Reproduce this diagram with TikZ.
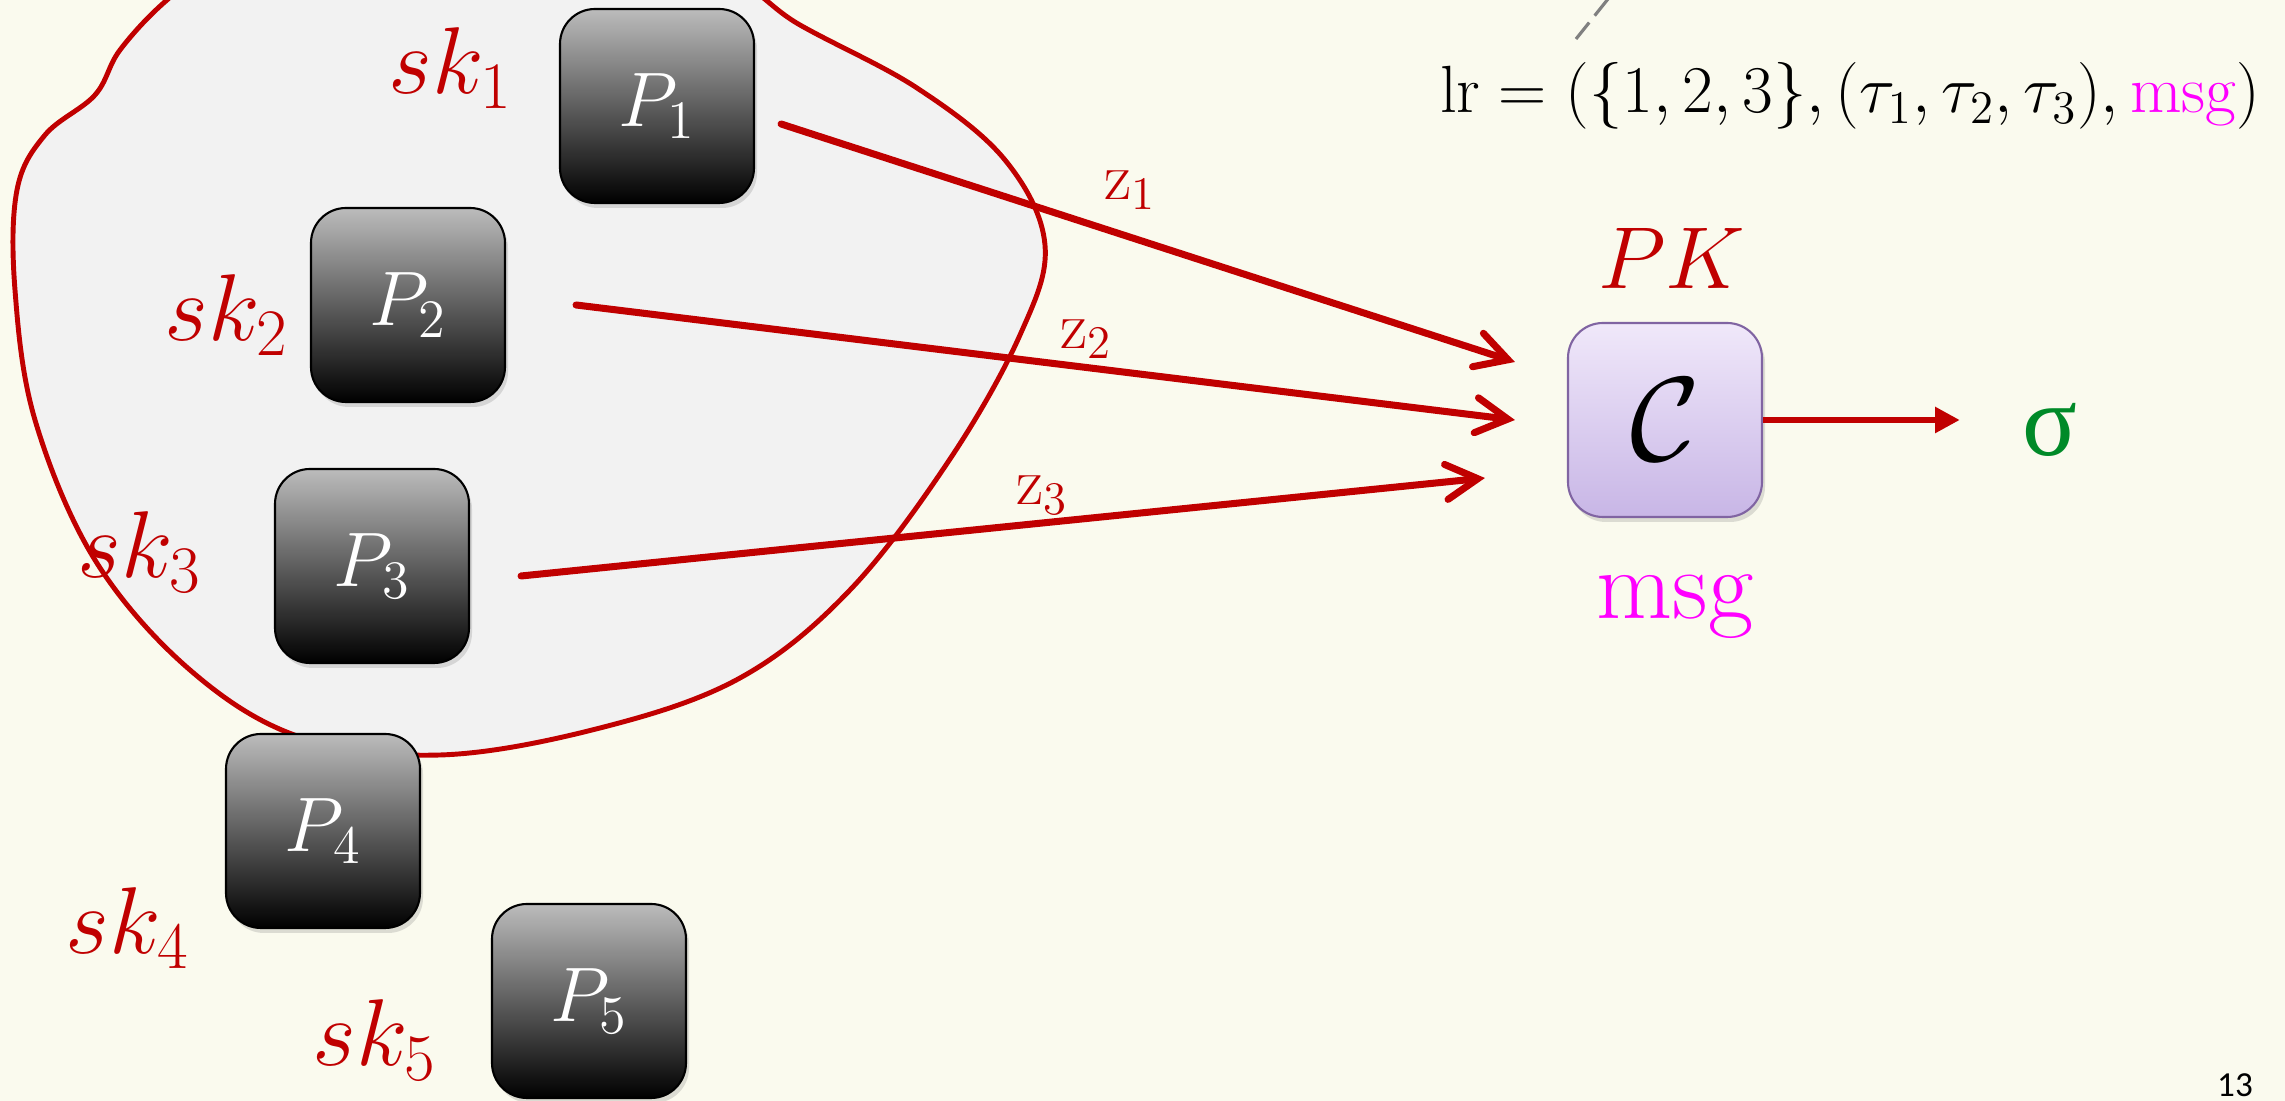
\RequirePackage{fix-cm}
\documentclass[tikz,border=0pt]{standalone}
\usepackage{fontspec}
\usepackage{amsmath, amssymb}
\newfontfamily\greekfont{Liberation Serif}
\newfontfamily\pagefont{Carlito}
\usetikzlibrary{arrows.meta, positioning, calc, shadows}

\definecolor{bgcream}{RGB}{250,250,238}
\definecolor{darkred}{RGB}{192,0,0}
\definecolor{blobgray}{RGB}{242,242,242}
\definecolor{boxtop}{RGB}{188,188,188}
\definecolor{lavtop}{RGB}{240,232,250}
\definecolor{lavbot}{RGB}{200,182,230}
\definecolor{lavline}{RGB}{128,100,162}
\definecolor{siggreen}{RGB}{0,138,40}
\definecolor{msgpink}{RGB}{255,0,255}

\begin{document}
\begin{tikzpicture}[
    party/.style={draw=black, line width=0.6pt, rounded corners=0.35cm,
      top color=boxtop, bottom color=black, minimum width=1.94cm,
      minimum height=1.94cm, inner sep=0pt, text=white,
      font=\fontsize{22}{26}\selectfont,
      drop shadow={shadow xshift=0.03cm, shadow yshift=-0.05cm, opacity=0.25}},
    combiner/.style={draw=lavline, line width=0.6pt, rounded corners=0.35cm,
      top color=lavtop, bottom color=lavbot, minimum width=1.94cm,
      minimum height=1.94cm, inner sep=0pt,
      font=\fontsize{34}{40}\selectfont,
      drop shadow={shadow xshift=0.03cm, shadow yshift=-0.05cm, opacity=0.25}},
    keylab/.style={text=darkred, inner sep=0pt, font=\fontsize{27}{32}\selectfont},
    zlab/.style={text=darkred, inner sep=0pt, font=\fontsize{19}{23}\selectfont},
    zarrow/.style={draw=darkred, line width=2pt, line cap=round,
      -{Straight Barb[length=9pt, width=10pt, line cap=round]}},
  ]
    % Background
    \useasboundingbox[fill=bgcream] (0,0) rectangle (22.85,-11.01);

    % Blob
    \draw[darkred, line width=1.4pt, fill=blobgray] plot[smooth cycle, tension=0.6] coordinates {
      (1.67,0) (1.20,-0.50) (0.95,-0.95) (0.45,-1.35) (0.17,-1.90) (0.15,-2.90)
      (0.35,-4.20) (0.95,-5.60) (1.90,-6.70) (3.00,-7.37) (4.40,-7.55) (6.00,-7.28)
      (7.40,-6.78) (8.50,-5.90) (9.50,-4.59) (10.20,-3.35) (10.45,-2.45) (10.05,-1.60)
      (9.17,-0.88) (8.00,-0.25) (7.00,0.35) (4.50,0.80) (2.30,0.45)};

    % Parties
    \node[party] (P1) at (6.57,-1.06) {$P_1$};
    \node[party] (P2) at (4.08,-3.05) {$P_2$};
    \node[party] (P3) at (3.72,-5.66) {$P_3$};
    \node[party] (P4) at (3.23,-8.31) {$P_4$};
    \node[party] (P5) at (5.89,-10.01) {$P_5$};

    % Secret keys
    \node[keylab] (sk1) at (4.51,-0.68) {$sk_1$};
    \node[keylab] (sk2) at (2.27,-3.15) {$sk_2$};
    \node[keylab] (sk3) at (1.40,-5.52) {$sk_3$};
    \node[keylab] (sk4) at (1.28,-9.28) {$sk_4$};
    \node[keylab] (sk5) at (3.75,-10.40) {$sk_5$};

    % Combiner
    \node[combiner] (C) at (16.65,-4.20) {$\mathcal{C}$};
    \node[text=darkred, inner sep=0pt, font=\fontsize{25}{30}\selectfont] (PK) at (16.72,-2.58) {$PK$};
    \node[text=msgpink, inner sep=0pt, font=\fontsize{28}{34}\selectfont] (msg) at (16.75,-6.07) {msg};
    \node[text=siggreen, inner sep=0pt, font=\fontsize{29}{34}\greekfont] (sig) at (20.50,-4.30) {σ};

    % Shares
    \draw[zarrow] ($(P1.east)+(0.26,-0.18)$) -- ($(C.west)+(-0.52,0.58)$);
    \draw[zarrow] ($(P2.east)+(0.70,0)$) -- ($(C.west)+(-0.52,0)$);
    \draw[zarrow] ($(P3.east)+(0.51,-0.10)$) -- ($(C.west)+(-0.82,-0.58)$);
    \node[zlab] (z1) at (11.30,-1.90) {$\mathrm{z}_1$};
    \node[zlab] (z2) at (10.86,-3.39) {$\mathrm{z}_2$};
    \node[zlab] (z3) at (10.42,-4.95) {$\mathrm{z}_3$};

    % Output
    \draw[darkred, line width=1.8pt, -{Triangle[length=7pt, width=7pt]}, shorten >=0.62cm]
      (C.east) -- (C.east -| sig.west);

    % Record
    \coordinate (dashlo) at (15.76,-0.39);
    \coordinate (dashhi) at (16.12,0.06);
    \draw[gray, line width=0.9pt, dash pattern=on 6pt off 2.5pt] (dashlo) -- (dashhi);
    \node[anchor=base, inner sep=0pt, font=\fontsize{19}{23}\selectfont] (lr) at (18.50,-1.13)
      {$\mathrm{lr} = (\{1,2,3\}, (\tau_1, \tau_2, \tau_3), \textcolor{msgpink}{\mathrm{msg}})$};

    % Page number
    \node[anchor=base, inner sep=0pt, font=\fontsize{10}{12}\pagefont] (page) at (22.35,-10.97) {13};
\end{tikzpicture}
\end{document}
